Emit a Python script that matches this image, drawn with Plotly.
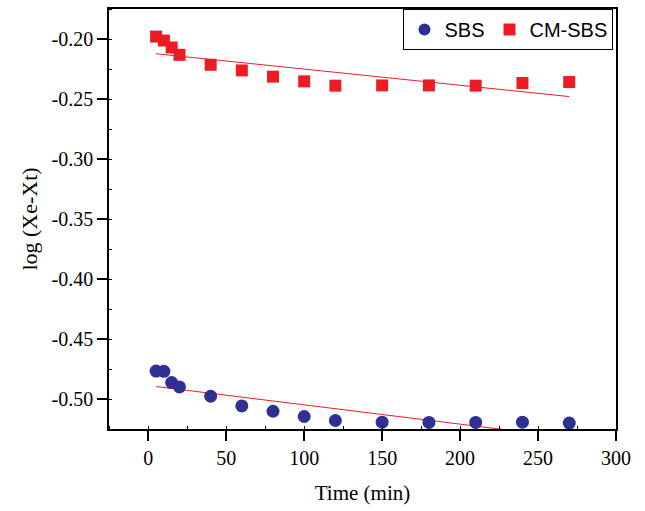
import plotly.graph_objects as go

time_min = [5, 10, 15, 20, 40, 60, 80, 100, 120, 150, 180, 210, 240, 270]
sbs = [-0.4766, -0.4768, -0.4862, -0.4898, -0.4976, -0.5057, -0.5101,
       -0.5145, -0.5178, -0.5192, -0.5194, -0.5194, -0.5192, -0.5200]
cm_sbs = [-0.1978, -0.2011, -0.2069, -0.2130, -0.2213, -0.2260, -0.2312,
          -0.2351, -0.2387, -0.2385, -0.2385, -0.2387, -0.2365, -0.2357]
fit_x = [5, 270]
sbs_fit = [-0.4895, -0.5321]
cm_fit = [-0.2121, -0.2478]

x_ticks = [0, 50, 100, 150, 200, 250, 300]
y_ticks = [-0.20, -0.25, -0.30, -0.35, -0.40, -0.45, -0.50]

navy = "#2E3192"
red = "#ED1C24"
serif = "Liberation Serif"

fig = go.Figure()
fig.add_trace(go.Scatter(x=fit_x, y=cm_fit, mode="lines",
                         line=dict(color=red, width=1), showlegend=False))
fig.add_trace(go.Scatter(x=fit_x, y=sbs_fit, mode="lines",
                         line=dict(color=red, width=1), showlegend=False))
fig.add_trace(go.Scatter(x=time_min, y=sbs, mode="markers", name="SBS",
                         marker=dict(symbol="circle", size=13, color=navy,
                                     line=dict(width=0))))
fig.add_trace(go.Scatter(x=time_min, y=cm_sbs, mode="markers", name="CM-SBS",
                         marker=dict(symbol="square", size=12, color=red,
                                     line=dict(width=0))))

axis_common = dict(
    showgrid=False, zeroline=False, showline=True, linecolor="black",
    linewidth=1.5, mirror=True, ticks="outside", ticklen=10, tickwidth=1.5,
    tickcolor="black",
    tickfont=dict(family=serif, size=20, color="black"),
)

fig.update_xaxes(
    **axis_common,
    range=[-25.2, 300], tickvals=x_ticks, ticktext=[str(v) for v in x_ticks],
    minor=dict(ticks="inside", ticklen=3, tickwidth=1, tickcolor="black",
               dtick=25, tick0=0, showgrid=False),
    title=dict(text="Time (min)", standoff=18,
               font=dict(family=serif, size=21, color="black")),
)
fig.update_yaxes(
    **axis_common,
    range=[-0.5249, -0.1748], tickvals=y_ticks,
    ticktext=["%.2f" % v for v in y_ticks],
    minor=dict(ticks="inside", ticklen=3, tickwidth=1, tickcolor="black",
               dtick=0.025, tick0=0, showgrid=False),
    title=dict(text="log (Xe-Xt)", standoff=8,
               font=dict(family=serif, size=22, color="black")),
)

fig.update_layout(
    width=645, height=511,
    margin=dict(l=109, r=29, t=7, b=82),
    plot_bgcolor="white", paper_bgcolor="white",
    legend=dict(orientation="h", x=0.995, xanchor="right", y=1, yanchor="top",
                bordercolor="black", borderwidth=1, bgcolor="white",
                font=dict(family="Liberation Sans", size=20, color="black"),
                itemsizing="constant"),
)

fig.write_html("out.html")
